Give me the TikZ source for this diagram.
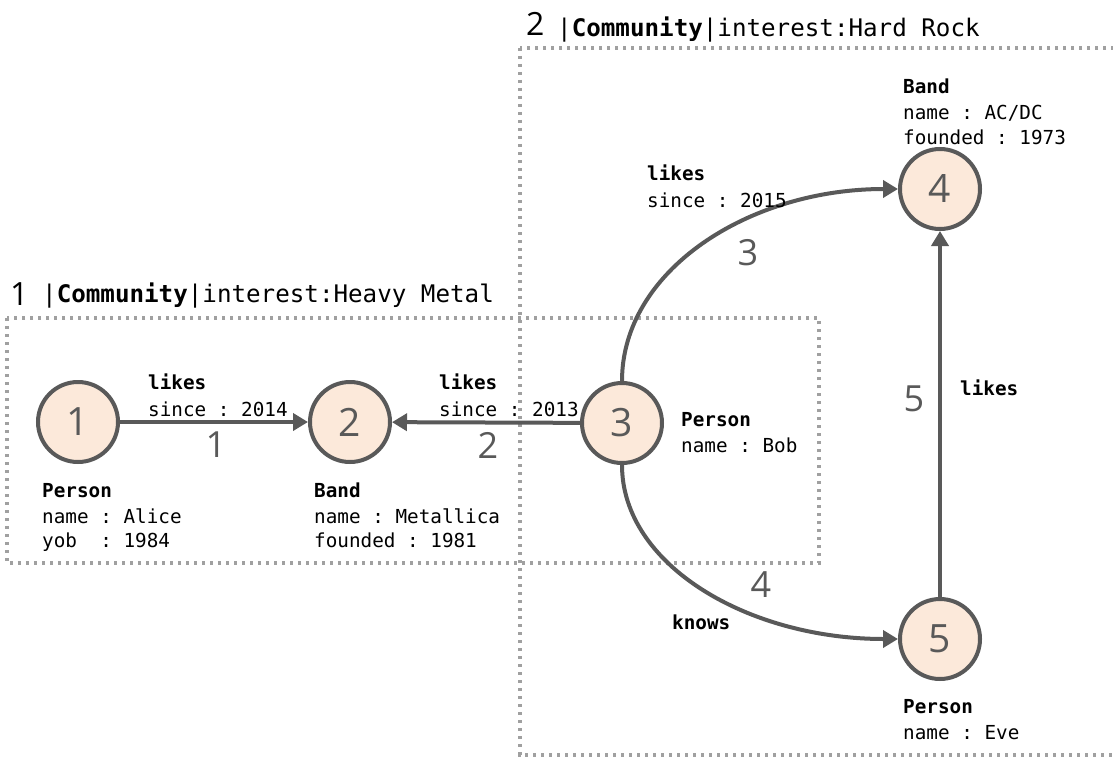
\documentclass[tikz,border=0pt]{standalone}
\usepackage{fontspec}
\setmonofont{DejaVu Sans Mono}
\newfontfamily\numfont{Open Sans}
\usetikzlibrary{arrows.meta}
\definecolor{edgegray}{HTML}{595959}
\definecolor{nodefill}{HTML}{FCE9DA}
\definecolor{boxgray}{HTML}{A0A0A0}
\begin{document}
\begin{tikzpicture}[x=1pt,y=-1pt,
  vertex/.style={circle,draw=edgegray,fill=nodefill,line width=4pt,minimum size=80pt,inner sep=0pt,
    font=\numfont\fontsize{39}{41}\selectfont,text=edgegray},
  rel/.style={draw=edgegray,line width=4pt,-{Triangle[length=15pt,width=17pt]}},
  lbl/.style={anchor=base west,inner sep=0pt,font=\ttfamily\fontsize{19.3}{21}\selectfont},
  blbl/.style={lbl,font=\ttfamily\bfseries\fontsize{19.3}{21}\selectfont},
  enum/.style={inner sep=0pt,font=\numfont\fontsize{36}{38}\selectfont,text=edgegray},
  hdr/.style={anchor=base west,inner sep=0pt,font=\ttfamily\fontsize{24.2}{26}\selectfont},
  hdrnum/.style={anchor=base west,inner sep=0pt,font=\numfont\fontsize{32}{34}\selectfont},
  community/.style={draw=boxgray,line width=3.3pt,dash pattern=on 3.3pt off 4.7pt,line cap=butt}]
\useasboundingbox (0,0) rectangle (1113,757);
\clip (0,0) rectangle (1113,757);
\fill[white] (0,0) rectangle (1113,757);

% community boxes
\draw[community] (7,318) rectangle (819,563);
\draw[community] (520,48) rectangle (1130,755);

% headers
\node[hdrnum] (h1n) at (10,305) {1};
\node[hdr] (h1t) at (42,302) {|\textbf{Community}|interest:Heavy Metal};
\node[hdrnum] (h2n) at (526,36) {2};
\node[hdr] (h2t) at (557,37) {|\textbf{Community}|interest:Hard Rock};

% vertices
\node[vertex] (n1) at (78,422) {1};
\node[vertex] (n2) at (350,422) {2};
\node[vertex] (n3) at (622,423) {3};
\node[vertex] (n4) at (940,189) {4};
\node[vertex] (n5) at (940,639) {5};

% edges
\draw[rel] (n1) -- (n2);
\draw[rel] (n3) -- (n2);
\draw[rel] (n3.north) .. controls +(0,-110) and +(-150,0) .. (n4.west);
\draw[rel] (n3.south) .. controls +(0,100) and +(-150,0) .. (n5.west);
\draw[rel] (n5) -- (n4);

% edge labels
\node[blbl] (e1a) at (148,389) {likes};
\node[lbl] (e1b) at (148,416) {since : 2014};
\node[enum] (e1n) at (216,445) {1};
\node[blbl] (e2a) at (439,389) {likes};
\node[lbl] (e2b) at (439,416) {since : 2013};
\node[enum] (e2n) at (488,445) {2};
\node[blbl] (e3a) at (647,180) {likes};
\node[lbl] (e3b) at (647,207) {since : 2015};
\node[enum] (e3n) at (748,253) {3};
\node[enum] (e4n) at (761,585) {4};
\node[blbl] (e4a) at (672,629) {knows};
\node[enum] (e5n) at (914,399) {5};
\node[blbl] (e5a) at (960,395) {likes};

% vertex labels
\node[blbl] (p1a) at (42,497) {Person};
\node[lbl] (p1b) at (42,523) {name : Alice};
\node[lbl] (p1c) at (42,547) {yob\ \ : 1984};
\node[blbl] (p2a) at (314,497) {Band};
\node[lbl] (p2b) at (314,523) {name : Metallica};
\node[lbl] (p2c) at (314,547) {founded : 1981};
\node[blbl] (p3a) at (681,426) {Person};
\node[lbl] (p3b) at (681,452) {name : Bob};
\node[blbl] (p4a) at (903,94) {Band};
\node[lbl] (p4b) at (903,120) {name : AC/DC};
\node[lbl] (p4c) at (903,145) {founded : 1973};
\node[blbl] (p5a) at (903,713) {Person};
\node[lbl] (p5b) at (903,739) {name : Eve};
\end{tikzpicture}
\end{document}
